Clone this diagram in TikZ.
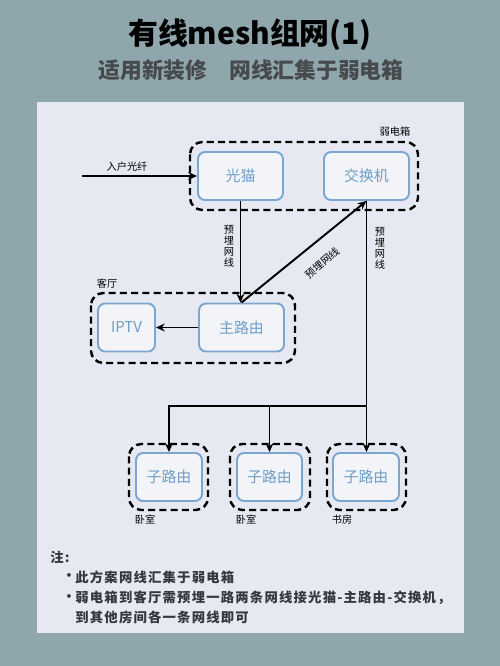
\documentclass[tikz,border=0pt]{standalone}
\usepackage{fontspec}
\setmainfont{Noto Sans CJK SC}
\usetikzlibrary{arrows.meta}
\definecolor{bgteal}{HTML}{8FA6AD}
\definecolor{panel}{HTML}{E6E9F2}
\definecolor{devline}{HTML}{7AA6CF}
\definecolor{devtext}{HTML}{6E9DC9}
\definecolor{subgray}{HTML}{464A4C}
\definecolor{notetext}{HTML}{34373E}

\begin{document}
\begin{tikzpicture}[x=0.02cm, y=-0.02cm,
  device/.style={rectangle, rounded corners=4pt, draw=devline, line width=1.1pt, fill=panel!50!white, text=devtext, font=\fontsize{8.5}{10}\selectfont, minimum height=0.96cm},
  roombox/.style={draw, dash pattern=on 4pt off 2.4pt, line width=1.4pt, rounded corners=7pt},
  wire/.style={line width=1.1pt, -{Stealth[length=5pt,width=4.5pt]}},
  tag/.style={font=\fontsize{5.8}{6.3}\selectfont, inner sep=0pt},
  note/.style={anchor=west, text=notetext, font=\fontsize{7.6}{9}\selectfont\bfseries\addfontfeature{LetterSpace=9}, inner sep=0pt}]
  \useasboundingbox (0,0) rectangle (500,666);
  \fill[bgteal] (0,0) rectangle (500,666);
  \fill[panel] (37,102) rectangle (464,633);

  % heading
  \node[font=\fontsize{17}{20}\selectfont\bfseries] (title) at (250,35) {有线mesh组网(1)};
  \node[font=\fontsize{12.4}{14}\selectfont\bfseries, text=subgray] (subtitle) at (251,70) {适用新装修\quad 网线汇集于弱电箱};

  % devices
  \node[device, minimum width=1.7cm] (guangmao) at (240.5,176) {光猫};
  \node[device, minimum width=1.7cm] (jiaohuanji) at (366.5,176) {交换机};
  \node[device, minimum width=1.7cm] (zhuluyou) at (241.5,327.5) {主路由};
  \node[device, minimum width=1.14cm] (iptv) at (126.5,327.5) {IPTV};
  \node[device, minimum width=1.32cm] (zi1) at (169,477) {子路由};
  \node[device, minimum width=1.3cm] (zi2) at (269.5,477) {子路由};
  \node[device, minimum width=1.32cm] (zi3) at (366,477) {子路由};

  % rooms
  \draw[roombox] (190,142) rectangle (418,210);
  \node[tag] (ruodianxiang) at (395,132) {弱电箱};
  \draw[roombox] (91,293) rectangle (295,363);
  \node[tag] (keting) at (107,284) {客厅};
  \draw[roombox] (129,444) rectangle (208,510);
  \node[tag] (woshi1) at (145,520) {卧室};
  \draw[roombox] (230,444) rectangle (310,510);
  \node[tag] (woshi2) at (246,520) {卧室};
  \draw[roombox] (327,444) rectangle (406,510);
  \node[tag] (shufang) at (342,520) {书房};

  % wiring
  \coordinate (fiberin) at (82,176);
  \draw[wire] (fiberin) -- (guangmao.west);
  \node[tag] (rhgx) at (127,167) {入户光纤};
  \draw[wire] (guangmao.south) -- (guangmao.south |- zhuluyou.north);
  \node[tag, align=center] (mai1) at (229,246) {预\\埋\\网\\线};
  \draw[wire] (zhuluyou.north) -- (jiaohuanji.south);
  \node[tag, rotate=40] (mai2) at (322,263) {预埋网线};
  \draw[wire] (zhuluyou.west) -- (iptv.east);
  \draw[wire] (jiaohuanji.south) -- (jiaohuanji.south |- zi3.north);
  \node[tag, align=center] (mai3) at (380,248) {预\\埋\\网\\线};
  \coordinate (fork) at (366.5,406);
  \draw[wire] (fork) -| (zi1.north);
  \draw[wire] (zi2.north |- fork) -- (zi2.north);

  % notes
  \node[note] (zhu) at (50,557) {注:};
  \node[note] (dot1) at (62,577) {\textbullet};
  \node[note] (line1) at (75,577) {此方案网线汇集于弱电箱};
  \node[note] (dot2) at (62,598) {\textbullet};
  \node[note] (line2) at (75,598) {弱电箱到客厅需预埋一路两条网线接光猫-主路由-交换机，};
  \node[note] (line3) at (75,617) {到其他房间各一条网线即可};
\end{tikzpicture}
\end{document}
